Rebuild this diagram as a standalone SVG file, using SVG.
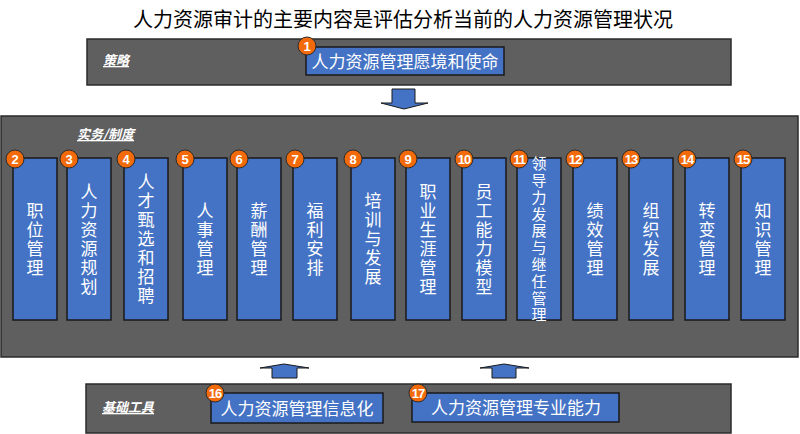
<svg xmlns="http://www.w3.org/2000/svg" width="800" height="434" viewBox="0 0 800 434">
<style>
.panel{fill:#5f5f5f;stroke:#2b2b2b;stroke-width:1.5}
.node{fill:#4472c4;stroke:#1a1a1a;stroke-width:1.5}
.arrow{fill:#4472c4;stroke:#1a1a1a;stroke-width:1}
.badge{fill:#f26a0a;stroke:#2b2b2b;stroke-width:1}
.bn{fill:#fff;font-family:"Liberation Sans",Arial,sans-serif;font-weight:bold;font-size:13px;text-anchor:middle}
.lbl{fill:#fff;font-family:"Noto Sans CJK SC",sans-serif;font-weight:bold;font-style:italic;font-size:13px;text-decoration:underline}
.t{fill:#fff;font-family:"Noto Sans CJK SC",sans-serif;font-size:17px;text-anchor:middle}
.v{fill:#fff;font-family:"Noto Sans CJK SC",sans-serif;font-size:17px;text-anchor:middle;writing-mode:vertical-rl;letter-spacing:2px}
.title{fill:#000;font-family:"Noto Sans CJK SC",sans-serif;font-size:20px;text-anchor:middle}
</style>
<rect width="800" height="434" fill="#fff"/>
<text class="title" x="403" y="27">人力资源审计的主要内容是评估分析当前的人力资源管理状况</text>

<g id="panel-strategy">
<rect class="panel" x="87" y="39" width="644" height="46"/>
<text class="lbl" x="103" y="65">策略</text>
</g>
<g id="panel-practice">
<rect class="panel" x="1" y="116" width="797" height="241"/>
<text class="lbl" x="77" y="139">实务/制度</text>
</g>
<g id="panel-base">
<rect class="panel" x="86" y="384" width="645" height="49"/>
<text class="lbl" x="102" y="412">基础工具</text>
</g>

<g id="connectors">
<polygon class="arrow" points="392,89 415,89 415,103 428,103 404,109 381,103 392,103"/>
<polygon class="arrow" points="272,378 297,378 297,368 309,368 284,364 260,368 272,368"/>
<polygon class="arrow" points="492,378 516,378 516,368 529,368 504,364 480,368 492,368"/>
</g>

<g id="n1">
<rect class="node" x="306" y="47" width="198" height="28"/>
<text class="t" x="405" y="68" font-size="18">人力资源管理愿境和使命</text>
<circle class="badge" cx="307" cy="46" r="9"/><text class="bn" x="307" y="51">1</text>
</g>

<g id="n2">
<rect class="node" x="13" y="158" width="44" height="162"/>
<text class="v" x="35" y="240">职位管理</text>
<circle class="badge" cx="15" cy="159" r="9"/><text class="bn" x="15" y="164">2</text>
</g>
<g id="n3">
<rect class="node" x="67" y="158" width="44" height="162"/>
<text class="v" x="89" y="240">人力资源规划</text>
<circle class="badge" cx="69" cy="159" r="9"/><text class="bn" x="69" y="164">3</text>
</g>
<g id="n4">
<rect class="node" x="124" y="158" width="44" height="162"/>
<text class="v" x="146" y="240">人才甄选和招聘</text>
<circle class="badge" cx="126" cy="159" r="9"/><text class="bn" x="126" y="164">4</text>
</g>
<g id="n5">
<rect class="node" x="183" y="158" width="44" height="162"/>
<text class="v" x="205" y="240">人事管理</text>
<circle class="badge" cx="185" cy="159" r="9"/><text class="bn" x="185" y="164">5</text>
</g>
<g id="n6">
<rect class="node" x="237" y="158" width="44" height="162"/>
<text class="v" x="259" y="240">薪酬管理</text>
<circle class="badge" cx="239" cy="159" r="9"/><text class="bn" x="239" y="164">6</text>
</g>
<g id="n7">
<rect class="node" x="293" y="158" width="44" height="162"/>
<text class="v" x="315" y="240">福利安排</text>
<circle class="badge" cx="295" cy="159" r="9"/><text class="bn" x="295" y="164">7</text>
</g>
<g id="n8">
<rect class="node" x="351" y="158" width="44" height="162"/>
<text class="v" x="373" y="240">培训与发展</text>
<circle class="badge" cx="353" cy="159" r="9"/><text class="bn" x="353" y="164">8</text>
</g>
<g id="n9">
<rect class="node" x="406" y="158" width="44" height="162"/>
<text class="v" x="428" y="240">职业生涯管理</text>
<circle class="badge" cx="408" cy="159" r="9"/><text class="bn" x="408" y="164">9</text>
</g>
<g id="n10">
<rect class="node" x="462" y="158" width="44" height="162"/>
<text class="v" x="484" y="240">员工能力模型</text>
<circle class="badge" cx="464" cy="159" r="9"/><text class="bn" x="464" y="164" letter-spacing="-1">10</text>
</g>
<g id="n11">
<rect class="node" x="517" y="158" width="44" height="162"/>
<text class="v" x="539" y="240" style="font-size:15px;letter-spacing:1.8px">领导力发展与继任管理</text>
<circle class="badge" cx="519" cy="159" r="9"/><text class="bn" x="519" y="164" letter-spacing="-1">11</text>
</g>
<g id="n12">
<rect class="node" x="573" y="158" width="44" height="162"/>
<text class="v" x="595" y="240">绩效管理</text>
<circle class="badge" cx="575" cy="159" r="9"/><text class="bn" x="575" y="164" letter-spacing="-1">12</text>
</g>
<g id="n13">
<rect class="node" x="629" y="158" width="44" height="162"/>
<text class="v" x="651" y="240">组织发展</text>
<circle class="badge" cx="631" cy="159" r="9"/><text class="bn" x="631" y="164" letter-spacing="-1">13</text>
</g>
<g id="n14">
<rect class="node" x="685" y="158" width="44" height="162"/>
<text class="v" x="707" y="240">转变管理</text>
<circle class="badge" cx="687" cy="159" r="9"/><text class="bn" x="687" y="164" letter-spacing="-1">14</text>
</g>
<g id="n15">
<rect class="node" x="741" y="158" width="44" height="162"/>
<text class="v" x="763" y="240">知识管理</text>
<circle class="badge" cx="743" cy="159" r="9"/><text class="bn" x="743" y="164" letter-spacing="-1">15</text>
</g>

<g id="n16">
<rect class="node" x="211" y="393" width="172" height="30"/>
<text class="t" x="297" y="415" font-size="16.5">人力资源管理信息化</text>
<circle class="badge" cx="215" cy="393" r="9"/><text class="bn" x="215" y="398" letter-spacing="-1">16</text>
</g>
<g id="n17">
<rect class="node" x="412" y="393" width="207" height="29"/>
<text class="t" x="516" y="414" font-size="16.5">人力资源管理专业能力</text>
<circle class="badge" cx="418" cy="393" r="9"/><text class="bn" x="418" y="398" letter-spacing="-1">17</text>
</g>
</svg>
